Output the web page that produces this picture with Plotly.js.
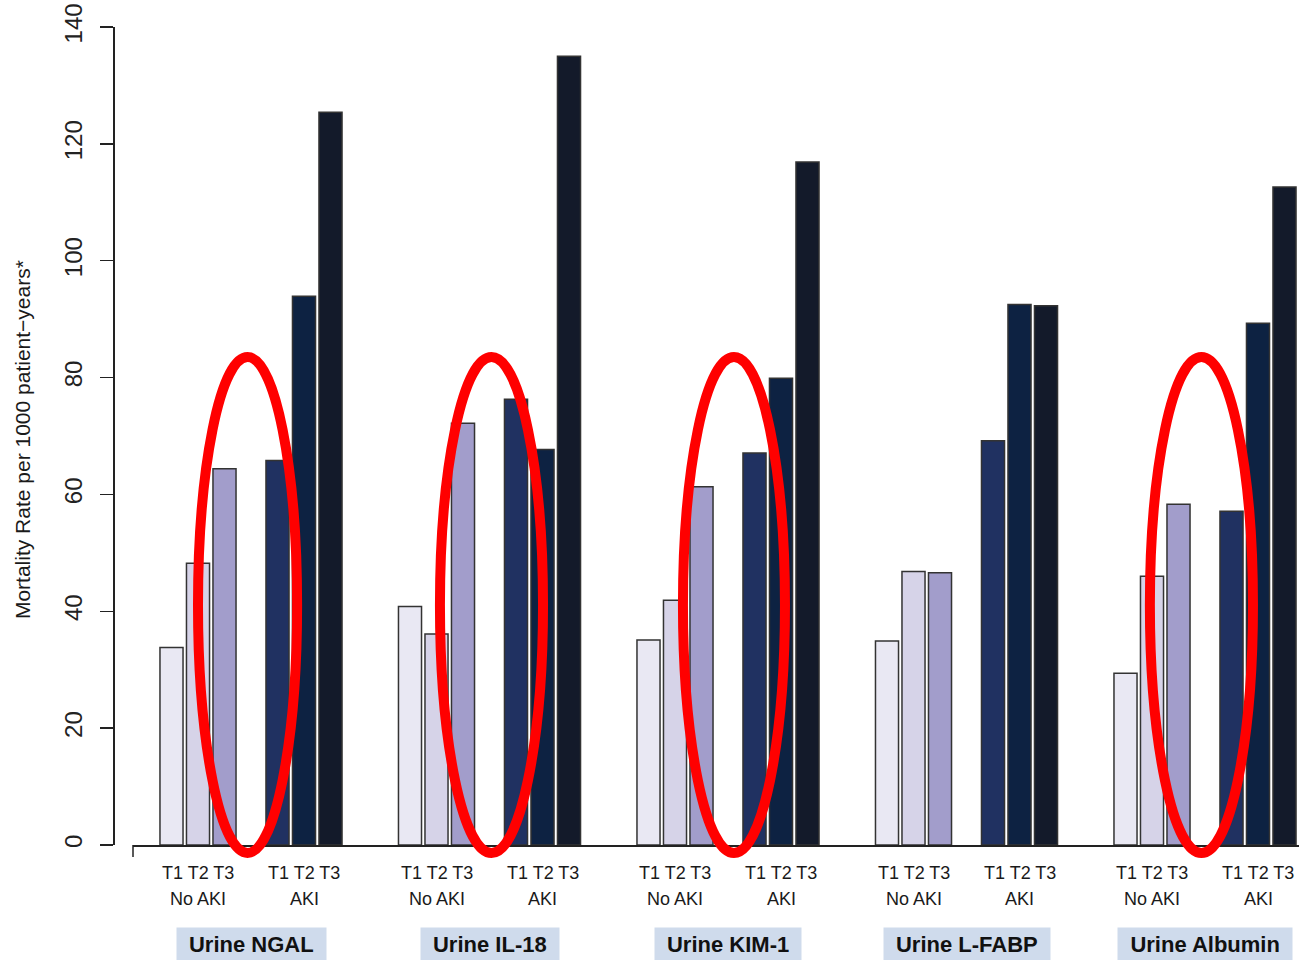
<!DOCTYPE html>
<html>
<head>
<meta charset="utf-8">
<script src="https://cdn.plot.ly/plotly-3.0.1.min.js"></script>
<style>html,body{margin:0;padding:0;background:#fff;}#chart{width:1299px;height:960px;}</style>
</head>
<body>
<div id="chart"></div>
<script>
// ---- data ----
const biomarkers = ['Urine NGAL', 'Urine IL-18', 'Urine KIM-1', 'Urine L-FABP', 'Urine Albumin'];
const tertiles = ['T1', 'T2', 'T3'];
const statusLabels = ['No AKI', 'AKI'];
const noAKI_T1 = [33.8, 40.8, 35.1, 34.9, 29.4];
const noAKI_T2 = [48.2, 36.1, 41.9, 46.8, 46.0];
const noAKI_T3 = [64.4, 72.2, 61.3, 46.6, 58.3];
const aki_T1   = [65.8, 76.3, 67.1, 69.2, 57.1];
const aki_T2   = [93.9, 67.7, 79.9, 92.5, 89.3];
const aki_T3   = [125.4, 135.0, 116.9, 92.3, 112.6];
const yTicks = [0, 20, 40, 60, 80, 100, 120, 140];
const yTitle = 'Mortality Rate per 1000 patient\u2212years*';
const circledGroups = [0, 1, 2, 4];

// ---- layout helpers ----
const series = [
  {vals: noAKI_T1, off: 0, color: '#e9e8f3'},
  {vals: noAKI_T2, off: 1, color: '#d6d3e8'},
  {vals: noAKI_T3, off: 2, color: '#a29dcb'},
  {vals: aki_T1,   off: 4, color: '#203161'},
  {vals: aki_T2,   off: 5, color: '#0d2242'},
  {vals: aki_T3,   off: 6, color: '#131a2a'}
];
const GROUP = 9;
const ML = 113, MT = 27, MB = 115, W = 1299, H = 960;
const plotW = W - ML, plotH = H - MT - MB;
const d0 = 20 / plotW;
const xr = [-1.4528, 42.547];
const yr = [0, 140];
function px2paperY(dy) { return dy / plotH; }
function xToPaper(x) { return d0 + (x - xr[0]) / (xr[1] - xr[0]) * (1 - d0); }
function yToPaper(y) { return (y - yr[0]) / (yr[1] - yr[0]); }

const font = '"Liberation Sans", Arial, Helvetica, sans-serif';

const traces = series.map(s => ({
  type: 'bar',
  x: biomarkers.map((b, g) => g * GROUP + s.off),
  y: s.vals,
  width: 0.87,
  marker: {color: s.color, line: {color: '#333333', width: 1.5}},
  hoverinfo: 'y',
  showlegend: false
}));

const canvas = document.createElement('canvas');
const ctx = canvas.getContext('2d');
ctx.font = 'bold 22px "Liberation Sans", Arial, sans-serif';

const annotations = [];
biomarkers.forEach((b, g) => {
  [1, 5].forEach((mid, k) => {
    annotations.push({
      x: g * GROUP + mid, xref: 'x', y: 0, yref: 'paper', yanchor: 'middle',
      yshift: -28, text: tertiles.join(' '), showarrow: false,
      font: {family: font, size: 18, color: '#1a1a1a'}
    });
    annotations.push({
      x: g * GROUP + mid, xref: 'x', y: 0, yref: 'paper', yanchor: 'middle',
      yshift: -54, text: statusLabels[k], showarrow: false,
      font: {family: font, size: 18, color: '#1a1a1a'}
    });
  });
  const tw = ctx.measureText(b).width;
  annotations.push({
    x: g * GROUP + 3, xref: 'x', y: 0, yref: 'paper', yanchor: 'middle',
    yshift: -99, text: '<b>' + b + '</b>', showarrow: false,
    bgcolor: '#cfdbec', borderpad: 4, width: tw + 16,
    font: {family: font, size: 22, color: '#111111'}
  });
});
annotations.push({
  x: 0, xref: 'paper', xanchor: 'center', xshift: -91, y: yToPaper(69.3), yref: 'paper',
  yanchor: 'middle', text: yTitle, textangle: -90, showarrow: false,
  font: {family: font, size: 21, color: '#1a1a1a'}
});

// red ellipses (group-relative x span, y span in data units)
const ellipseSpan = [[1.0, 4.74], [1.13, 5.02], [1.30, 5.15], null, [0.92, 4.81]];
const shapes = [];
circledGroups.forEach(g => {
  const sp = ellipseSpan[g];
  shapes.push({
    type: 'circle', xref: 'paper', yref: 'paper', layer: 'above',
    x0: xToPaper(g * GROUP + sp[0]), x1: xToPaper(g * GROUP + sp[1]),
    y0: yToPaper(-1.37), y1: yToPaper(83.5),
    line: {color: '#ff0000', width: 10}, fillcolor: 'rgba(0,0,0,0)'
  });
});
// small tick at start of the x axis line
shapes.push({
  type: 'line', xref: 'paper', yref: 'paper', x0: d0, x1: d0, y0: 0, y1: -px2paperY(12),
  line: {color: '#222222', width: 1.5}
});

const layout = {
  width: W, height: H,
  margin: {l: ML, r: 0, t: MT, b: MB, pad: 0},
  paper_bgcolor: '#ffffff', plot_bgcolor: '#ffffff',
  barmode: 'overlay',
  showlegend: false,
  xaxis: {
    domain: [d0, 1], range: xr, showgrid: false, zeroline: false,
    showline: true, linecolor: '#222222', linewidth: 1.5,
    showticklabels: false, ticks: '', fixedrange: true
  },
  yaxis: {
    range: yr, anchor: 'free', position: 0, showgrid: false, zeroline: false,
    showline: true, linecolor: '#222222', linewidth: 1.5,
    ticks: 'outside', ticklen: 13, tickwidth: 1.5, tickcolor: '#222222',
    tickvals: yTicks, ticktext: yTicks.map(String), tickangle: -90,
    ticklabelstandoff: 8,
    tickfont: {family: font, size: 24, color: '#222222'}
  },
  annotations: annotations,
  shapes: shapes
};

Plotly.newPlot('chart', traces, layout, {displayModeBar: false, staticPlot: true});
</script>
</body>
</html>
